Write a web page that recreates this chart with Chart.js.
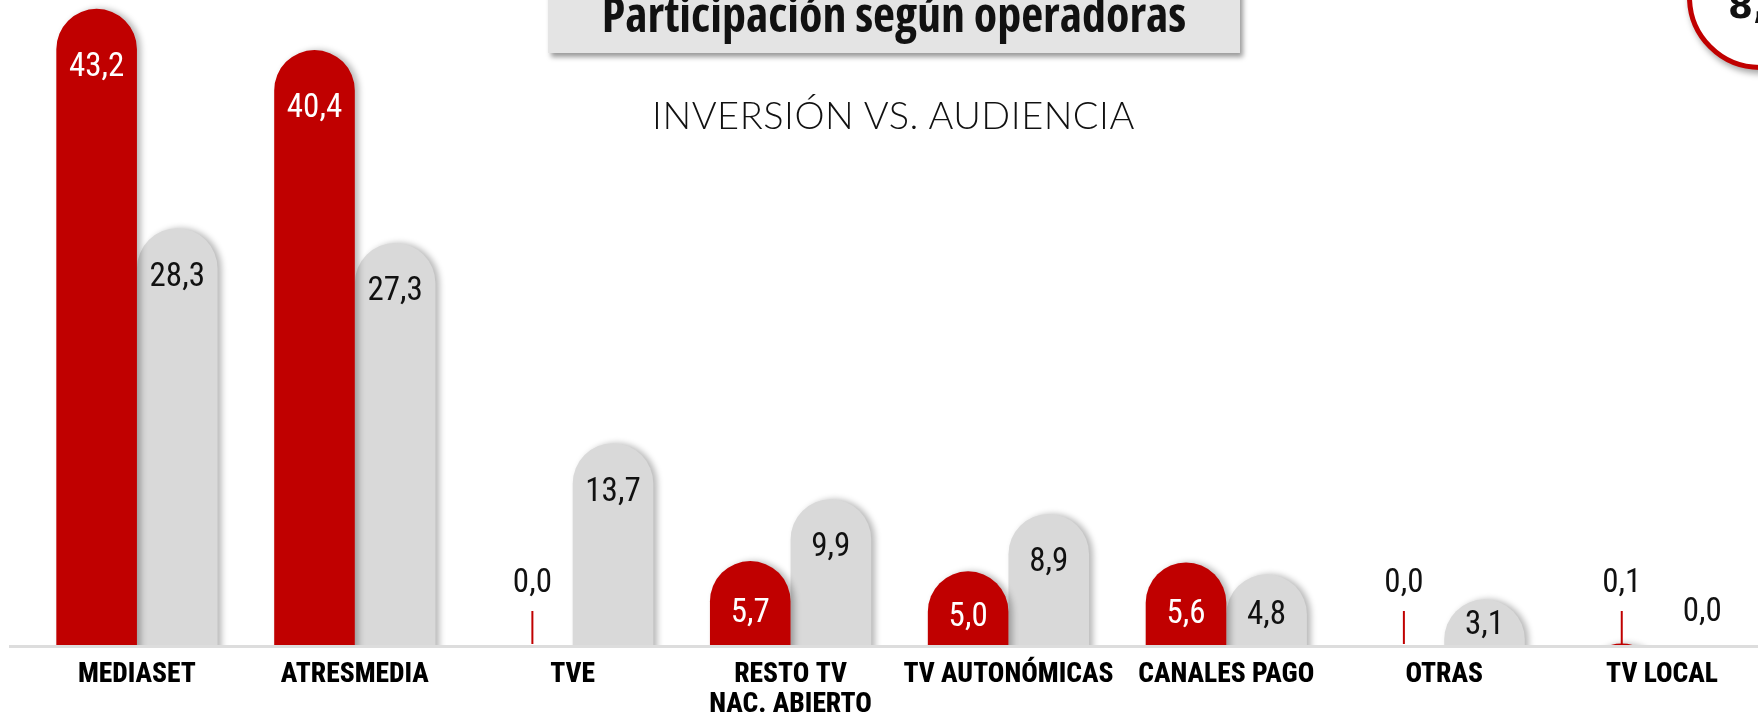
<!DOCTYPE html>
<html>
<head>
<meta charset="utf-8">
<script src="https://cdn.jsdelivr.net/npm/chart.js@4.4.1/dist/chart.umd.min.js"></script>
<style>
html,body{margin:0;padding:0;background:#fff;width:1758px;height:720px;overflow:hidden;position:relative}
#c{position:absolute;left:0;top:0}
#titleBox{position:absolute;left:548px;top:-20px;width:692px;height:73px;background:#e4e4e4;box-shadow:3px 4px 5px rgba(0,0,0,0.4)}
#title{position:absolute;left:548px;width:692px;top:-10px;text-align:center;font-family:'Open Sans',sans-serif;font-stretch:75%;font-weight:bold;font-size:48px;line-height:48px;color:#111;white-space:nowrap}
#sub{position:absolute;left:0;width:1787px;top:95px;text-align:center;font-family:Lato,sans-serif;font-weight:300;font-size:38px;line-height:38px;letter-spacing:0.5px;color:#111;white-space:nowrap}
#badge{position:absolute;left:1687px;top:-76px;width:136px;height:136px;border:5px solid #c00000;border-radius:50%;background:#fff;box-shadow:2px 4px 6px rgba(0,0,0,0.35)}
#badgeText{position:absolute;left:1728px;top:-12px;font-family:'DejaVu Sans',sans-serif;font-weight:bold;font-size:36px;line-height:36px;color:#111;white-space:nowrap}
</style>
</head>
<body>
<canvas id="c" width="1780" height="720"></canvas>
<div id="titleBox"></div>
<div id="title">Participación según operadoras</div>
<div id="sub">INVERSIÓN VS. AUDIENCIA</div>
<div id="badge"></div>
<div id="badgeText">8,</div>
<script>
const categories = ['MEDIASET', 'ATRESMEDIA', 'TVE', ['RESTO TV', 'NAC. ABIERTO'], 'TV AUTONÓMICAS', 'CANALES PAGO', 'OTRAS', 'TV LOCAL'];
const inversion = [43.2, 40.4, 0.0, 5.7, 5.0, 5.6, 0.0, 0.1];
const audiencia = [28.3, 27.3, 13.7, 9.9, 8.9, 4.8, 3.1, 0.0];

const RED = '#c00000';
const GRAY = '#d9d9d9';
const fmt = v => v.toFixed(1).replace('.', ',');

const barPlugin = {
  id: 'domeBars',
  beforeDatasetsDraw(chart) {
    const ctx = chart.ctx;
    const y0 = chart.scales.y.getPixelForValue(0);
    ctx.save();
    ctx.strokeStyle = '#dddddd';
    ctx.lineWidth = 3;
    ctx.beginPath();
    ctx.moveTo(9, y0 + 1.5);
    ctx.lineTo(chart.width, y0 + 1.5);
    ctx.stroke();
    ctx.restore();
  },
  beforeDatasetDraw(chart, args) {
    const ctx = chart.ctx;
    const color = chart.data.datasets[args.index].backgroundColor;
    args.meta.data.forEach(bar => {
      const p = bar.getProps(['x', 'y', 'base', 'width']);
      if (p.base - p.y < 0.5) return;
      const r = p.width / 2;
      const left = p.x - r, right = p.x + r;
      ctx.save();
      ctx.beginPath();
      ctx.rect(left - 20, 0, p.width + 40, p.base);
      ctx.clip();
      ctx.shadowColor = 'rgba(0,0,0,0.28)';
      ctx.shadowBlur = 6;
      ctx.shadowOffsetX = 4;
      ctx.shadowOffsetY = 0;
      ctx.fillStyle = color;
      ctx.beginPath();
      ctx.moveTo(left, p.base + r + 2);
      ctx.lineTo(left, p.y + r);
      ctx.arc(p.x, p.y + r, r, Math.PI, 0);
      ctx.lineTo(right, p.base + r + 2);
      ctx.closePath();
      ctx.fill();
      ctx.restore();
    });
    return false;
  }
};

const labelPlugin = {
  id: 'valueLabels',
  afterDraw(chart) {
    const ctx = chart.ctx;
    ctx.save();
    ctx.textAlign = 'center';
    ctx.textBaseline = 'middle';
    ctx.font = "400 33px 'Roboto Condensed', sans-serif";
    chart.data.datasets.forEach((ds, di) => {
      const meta = chart.getDatasetMeta(di);
      meta.data.forEach((bar, i) => {
        const v = ds.data[i];
        const h = bar.base - bar.y;
        if (v >= 1) {
          ctx.fillStyle = di === 0 ? '#ffffff' : '#111111';
          const off = di === 0 ? Math.min(59, h * 0.63) : Math.min(49, h * 0.58);
          ctx.fillText(fmt(v), bar.x, bar.y + off);
        } else if (di === 0) {
          ctx.strokeStyle = RED;
          ctx.lineWidth = 2;
          ctx.beginPath();
          ctx.moveTo(bar.x, bar.base - 1);
          ctx.lineTo(bar.x, bar.base - 34);
          ctx.stroke();
          ctx.fillStyle = '#111111';
          ctx.fillText(fmt(v), bar.x, bar.base - 61);
        } else {
          ctx.fillStyle = '#111111';
          ctx.fillText(fmt(v), bar.x, bar.base - 32);
        }
      });
    });
    ctx.restore();
  }
};

new Chart(document.getElementById('c'), {
  type: 'bar',
  data: {
    labels: categories,
    datasets: [
      { label: 'Inversión', data: inversion, backgroundColor: RED,
        barPercentage: 1, categoryPercentage: 0.74 },
      { label: 'Audiencia', data: audiencia, backgroundColor: GRAY,
        barPercentage: 1, categoryPercentage: 0.74 }
    ]
  },
  options: {
    responsive: false,
    animation: false,
    devicePixelRatio: 1,
    layout: { padding: { left: 28, right: 9, top: 0, bottom: 0 } },
    plugins: { legend: { display: false }, tooltip: { enabled: false } },
    scales: {
      x: {
        grid: { display: false, drawTicks: false },
        border: { display: false },
        ticks: {
          autoSkip: false, maxRotation: 0, minRotation: 0, padding: 15,
          color: '#000',
          font: { family: "'Roboto Condensed', sans-serif", size: 27.5, weight: '800', lineHeight: 1.1 }
        },
        afterFit(scale) { scale.height = 75; }
      },
      y: { display: false, min: 0, max: 43.8 }
    }
  },
  plugins: [barPlugin, labelPlugin]
});
</script>
</body>
</html>
